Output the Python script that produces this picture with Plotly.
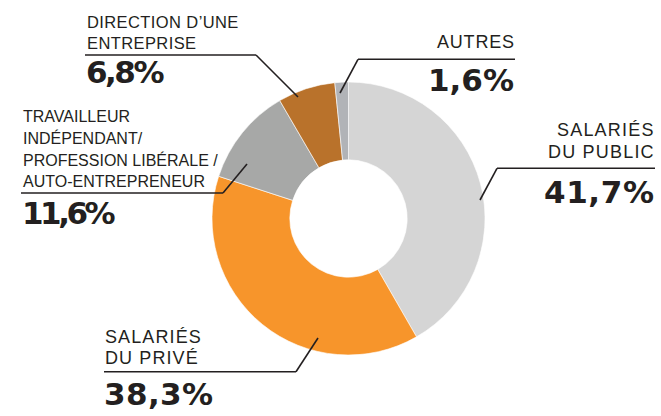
import plotly.graph_objects as go

W, H = 661, 416

categories = ["SALARIÉS DU PUBLIC", "SALARIÉS DU PRIVÉ",
              "TRAVAILLEUR INDÉPENDANT/ PROFESSION LIBÉRALE / AUTO-ENTREPRENEUR",
              "DIRECTION D’UNE ENTREPRISE", "AUTRES"]
values = [41.7, 38.3, 11.6, 6.8, 1.6]
colors = ["#d5d5d5", "#f7952b", "#a7a8a7", "#b9722b", "#b1b3b7"]
value_labels = ["41,7%", "38,3%", "11,6%", "6,8%", "1,6%"]
label_lines = [["SALARIÉS", "DU PUBLIC"], ["SALARIÉS", "DU PRIVÉ"],
               ["TRAVAILLEUR", "INDÉPENDANT/", "PROFESSION LIBÉRALE /", "AUTO-ENTREPRENEUR"],
               ["DIRECTION D’UNE", "ENTREPRISE"], ["AUTRES"]]

def px(x):
    return x / W

def py(y):
    return 1 - y / H

cx, cy, R = 348.5, 218.5, 136.5

fig = go.Figure(go.Pie(
    labels=categories, values=values, sort=False, direction="clockwise", rotation=0,
    hole=0.43, textinfo="none", hoverinfo="label+percent",
    marker=dict(colors=colors, line=dict(color="#ffffff", width=0.6)),
    domain=dict(x=[px(cx - R), px(cx + R)], y=[py(cy + R), py(cy - R)]),
    showlegend=False,
))

TXT = "#231f20"
FONT = "Liberation Sans, Arial, sans-serif"
NUMFONT = "DejaVu Sans, Liberation Sans, sans-serif"
# label layout: side, text x, first line y, line step, label font size, label spacing,
# value y, value spacing, rule y, rule x0, rule x1, elbow x, tip x, tip y
layout_spec = [
    ("right", 655, 130, 21.5, 18, 1.2, 192, 0.6, 168.3, 497, 655, 497, 480, 200),
    ("left", 104, 336.7, 21.6, 18, 1.1, 394.3, 0.4, 371.7, 104, 296, 296, 318, 338),
    ("left", 22, 116.5, 21.5, 16, 0.0, 212.5, -3.5, 193, 21, 223, 223, 247, 164),
    ("left", 86, 22.5, 20, 16.5, 0.4, 71.7, -2.5, 55, 85, 256, 256, 298, 97),
    ("right", 515, 42, 21, 18, 0.8, 80, 0.0, 59.3, 358, 515, 358, 340, 93),
]

def spaced(t, ls):
    if ls == 0:
        return t
    return '<span style="letter-spacing:%.2fpx">%s</span>' % (ls, t)

annotations = []
shapes = []
for lines, val, spec in zip(label_lines, value_labels, layout_spec):
    side, tx, y0, step, fs, ls, vy, vls, ry, rx0, rx1, ex, tipx, tipy = spec
    for i, ln in enumerate(lines):
        xoff = ls if side == "right" else 0
        annotations.append(dict(
            x=px(tx + xoff), y=py(y0 + i * step), xref="paper", yref="paper",
            text=spaced(ln, ls), showarrow=False, xanchor=side, yanchor="middle",
            font=dict(family=FONT, size=fs, color=TXT),
            borderpad=0,
        ))
    xoff = vls if side == "right" else -1
    annotations.append(dict(
        x=px(tx + xoff), y=py(vy), xref="paper", yref="paper",
        text="<b>" + spaced(val, vls) + "</b>", showarrow=False, xanchor=side, yanchor="middle",
        font=dict(family=NUMFONT, size=31, color=TXT),
        borderpad=0,
    ))
    shapes.append(dict(type="line", xref="paper", yref="paper",
                       x0=px(rx0), x1=px(rx1), y0=py(ry), y1=py(ry),
                       line=dict(color=TXT, width=1.6)))
    shapes.append(dict(type="line", xref="paper", yref="paper",
                       x0=px(ex), x1=px(tipx), y0=py(ry), y1=py(tipy),
                       line=dict(color=TXT, width=1.6)))

fig.update_layout(
    width=W, height=H, margin=dict(l=0, r=0, t=0, b=0),
    paper_bgcolor="#ffffff", plot_bgcolor="#ffffff",
    annotations=annotations, shapes=shapes,
)

fig.write_html("out.html", config={"displayModeBar": False},
               post_script="document.body.style.margin='0';document.body.style.overflow='hidden';")
